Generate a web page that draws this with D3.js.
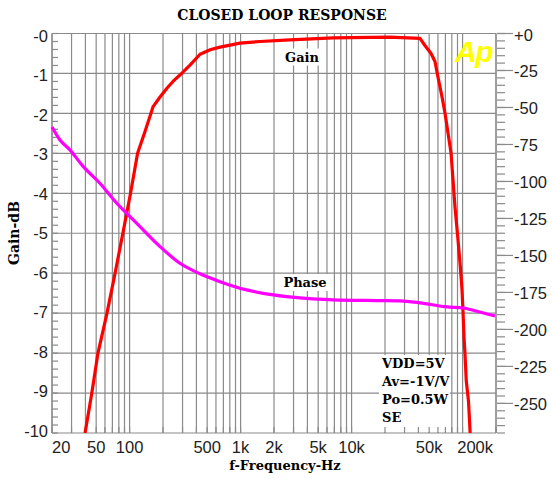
<!DOCTYPE html>
<html><head><meta charset="utf-8">
<script src="https://cdn.jsdelivr.net/npm/d3@7"></script>
<style>
html,body{margin:0;padding:0;background:#fff;}
svg{display:block;}
.sf{font-family:"DejaVu Serif",serif;font-weight:bold;fill:#000;}
.ax{font-family:"Liberation Sans",Arial,sans-serif;font-size:16.5px;fill:#222;}
</style></head>
<body>
<svg id="chart" width="552" height="479"></svg>
<script>
// ---- data ----
const gainFreq = [39.7,45.7,51.9,62.6,74,87,102,118,137,163,188,217,246,284,350,431,540,653,988,1500,2790,6800,22000,41300,45800,52000,56400,60000,65300,69400,73900,78700,82000,85400,91000,94800,98800,101000,103000,105000,108000,113000,117000];
const gainDb   = [-10,-9,-8,-7,-6,-5,-4,-3,-2.47,-1.83,-1.59,-1.37,-1.2,-1.04,-0.79,-0.52,-0.4,-0.34,-0.24,-0.2,-0.16,-0.11,-0.09,-0.12,-0.3,-0.5,-0.7,-1.09,-1.59,-1.99,-2.49,-2.99,-3.67,-4.34,-5.17,-5.74,-6.4,-7.0,-7.6,-8.0,-8.7,-9.2,-10];
const phaseFreq = [20,23.6,29,38.3,54,76.6,94,124,188,284,431,653,1135,1972,3650,6800,16800,27300,41300,72400,101000,143000,196000];
const phaseDeg  = [-63.2,-72,-78.7,-90,-101.2,-114.7,-121.5,-130.5,-144,-155.3,-162.4,-167.7,-173.3,-176.7,-178.9,-180,-180.5,-180.7,-182,-184.8,-185.5,-188.2,-190.9];
const xTickVals = [20,50,100,500,1000,2000,5000,10000,50000,200000];
const xTickText = ["20","50","100","500","1k","2k","5k","10k","50k","200k"];
const gainTickVals = [0,-1,-2,-3,-4,-5,-6,-7,-8,-9,-10];
const gainTickText = ["-0","-1","-2","-3","-4","-5","-6","-7","-8","-9","-10"];
const phaseTickVals = [0,-25,-50,-75,-100,-125,-150,-175,-200,-225,-250];
const phaseTickText = ["+0","-25","-50","-75","-100","-125","-150","-175","-200","-225","-250"];
const legendLines = ["VDD=5V","Av=-1V/V","Po=0.5W","SE"];

// ---- layout ----
const L=52, R=496, T=33.5, B=433;
const svg = d3.select("#chart");
const x = d3.scaleLog().domain([20,200000]).range([L,R]);
const yG = d3.scaleLinear().domain([0,-10]).range([T,B]);
const yP = d3.scaleLinear().domain([0,-270]).range([T,B]);
const gridCol = "#8a8a8a";

const gridFreqs = [];
for (let d=10; d<=100000; d*=10) for (let m=1;m<=9;m++){ const f=m*d; if(f>=20 && f<=200000) gridFreqs.push(f); }
gridFreqs.push(200000);

const grid = svg.append("g");
grid.selectAll("line.v").data(gridFreqs).join("line")
  .attr("x1",d=>x(d)).attr("x2",d=>x(d)).attr("y1",T).attr("y2",B)
  .attr("stroke",gridCol).attr("stroke-width",1.2);
grid.selectAll("line.h").data(gainTickVals).join("line")
  .attr("x1",L).attr("x2",R).attr("y1",d=>yG(d)).attr("y2",d=>yG(d))
  .attr("stroke",gridCol).attr("stroke-width",1.2);

svg.append("rect").attr("x",379).attr("y",355).attr("width",71).attr("height",77).attr("fill","#fff");
const gl = svg.append("text").attr("class","sf").attr("x",302).attr("y",61.5).attr("text-anchor","middle").attr("font-size",13).text("Gain");
const pl = svg.append("text").attr("class","sf").attr("x",305).attr("y",287).attr("text-anchor","middle").attr("font-size",13).text("Phase");
[gl,pl].forEach(t=>{const b=t.node().getBBox(); svg.insert("rect","text").attr("x",b.x-3).attr("y",b.y-1).attr("width",b.width+6).attr("height",b.height+2).attr("fill","#fff");});

const ticks = svg.append("g").attr("stroke",gridCol).attr("stroke-width",1.2);
ticks.selectAll("line.xb").data(gridFreqs).join("line")
  .attr("x1",d=>x(d)).attr("x2",d=>x(d)).attr("y1",B).attr("y2",B-6);
ticks.selectAll("line.ym").data(d3.range(0,-10.01,-0.2)).join("line")
  .attr("x1",L).attr("x2",L+6).attr("y1",d=>yG(d)).attr("y2",d=>yG(d));
ticks.selectAll("line.pm").data(d3.range(0,-270.1,-5)).join("line")
  .attr("x1",R+1).attr("x2",R+9).attr("y1",d=>yP(d)).attr("y2",d=>yP(d));
ticks.selectAll("line.pM").data(phaseTickVals).join("line")
  .attr("x1",R+1).attr("x2",R+17).attr("y1",d=>yP(d)).attr("y2",d=>yP(d));
svg.append("line").attr("x1",L).attr("x2",L).attr("y1",T).attr("y2",B).attr("stroke",gridCol).attr("stroke-width",1.2);

const gainLine = d3.line().x(d=>x(d[0])).y(d=>yG(d[1]));
const phaseLine = d3.line().curve(d3.curveMonotoneX).x(d=>x(d[0])).y(d=>yP(d[1]));
svg.append("defs").append("clipPath").attr("id","clip").append("rect").attr("x",L).attr("y",T-3).attr("width",R-L+2).attr("height",B-T+3);
svg.append("path").attr("clip-path","url(#clip)").datum(d3.zip(gainFreq,gainDb)).attr("d",gainLine)
  .attr("fill","none").attr("stroke","#ff0000").attr("stroke-width",3.2).attr("stroke-linejoin","round");
svg.append("path").datum(d3.zip(phaseFreq,phaseDeg)).attr("d",phaseLine)
  .attr("fill","none").attr("stroke","#ff00ff").attr("stroke-width",3.2).attr("stroke-linejoin","round");

const labY = d3.scaleLinear().domain([0,-10]).range([41.7,436.7]);
svg.selectAll("text.gl").data(gainTickVals).join("text").attr("class","ax")
  .attr("x",48).attr("y",d=>labY(d)).attr("text-anchor","end").text((d,i)=>gainTickText[i]);
svg.selectAll("text.pl").data(phaseTickVals).join("text").attr("class","ax")
  .attr("x",514).attr("y",d=>yP(d)+7).attr("text-anchor","start").text((d,i)=>phaseTickText[i]);
svg.selectAll("text.xl").data(xTickVals).join("text").attr("class","ax")
  .attr("x",(d,i)=> i===0 ? x(d) : (i===xTickVals.length-1 ? x(d)-3 : x(d)))
  .attr("y",453)
  .attr("text-anchor",(d,i)=> i===0 ? "start" : (i===xTickVals.length-1 ? "end" : "middle"))
  .text((d,i)=>xTickText[i]);

svg.append("text").attr("class","sf").attr("x",282).attr("y",20).attr("text-anchor","middle").attr("font-size",14).text("CLOSED LOOP RESPONSE");
svg.append("text").attr("class","sf").attr("x",285).attr("y",470).attr("text-anchor","middle").attr("font-size",13).text("f-Frequency-Hz");
svg.append("text").attr("class","sf").attr("transform","translate(19,233) rotate(-90)").attr("text-anchor","middle").attr("font-size",14).text("Gain-dB");

svg.selectAll("text.lg").data(legendLines).join("text").attr("class","sf").attr("font-size",13)
  .attr("x",382).attr("y",(d,i)=>368+i*18).text(d=>d);

svg.append("text").attr("x",455).attr("y",62).attr("font-family","Liberation Sans, Arial, sans-serif")
  .attr("font-weight","bold").attr("font-style","italic").attr("font-size",30).attr("fill","#ffff00").attr("letter-spacing",-1.5).text("Ap");
</script>
</body></html>
